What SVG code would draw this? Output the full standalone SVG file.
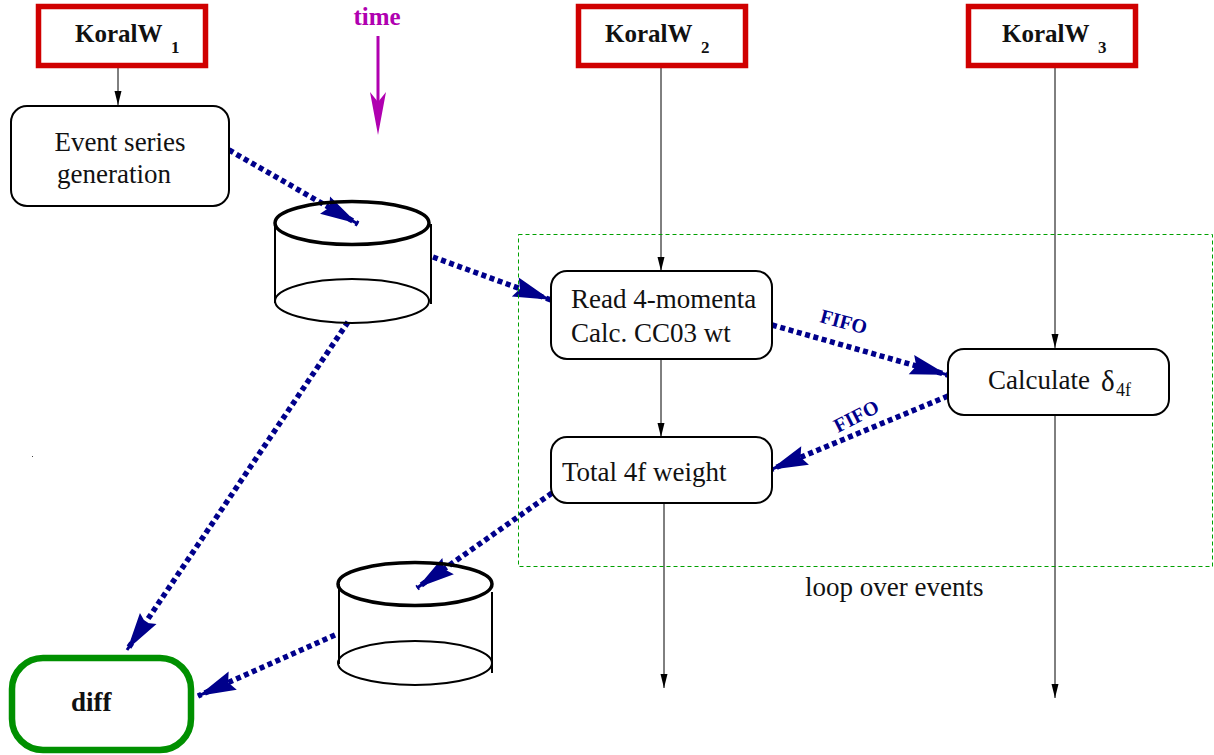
<svg xmlns="http://www.w3.org/2000/svg" width="1214" height="755" viewBox="0 0 1214 755">
<style>
text{font-family:"Liberation Serif","Times New Roman",serif;fill:#111}
.t{font-size:27px}
.b{font-size:27px;font-weight:bold}
.s{font-size:17px;font-weight:bold}
.k{fill:#fff;stroke:#d00000;stroke-width:5.5}
.r{fill:#fff;stroke:#000;stroke-width:2}
.e{fill:none;stroke:#000;stroke-width:2}
.et{fill:none;stroke:#000;stroke-width:3.5}
.thin{fill:none;stroke:#000;stroke-width:1;marker-end:url(#thinHead)}
.dash{fill:none;stroke:#00008b;stroke-width:5.5;stroke-dasharray:5 3.6;marker-end:url(#blueHead)}
.fifo{font-size:20px;font-weight:bold;fill:#00008b}
</style>
<defs>
<marker id="thinHead" markerUnits="userSpaceOnUse" markerWidth="20" markerHeight="12" refX="18" refY="6" orient="auto"><path d="M4,2.500L18,6L4,9.500Z" fill="#000"/></marker>
<marker id="blueHead" markerUnits="userSpaceOnUse" markerWidth="46" markerHeight="26" refX="44" refY="13" orient="auto"><path d="M6,3L11,13L6,23L38,14.500L44,14.500L44,11.500L38,11.500Z" fill="#00008b"/></marker>
</defs>
<g id="connectors">
<path class="thin" d="M118,66V105"/>
<path class="thin" d="M661,68V271"/>
<path class="thin" d="M661,359V437"/>
<path class="thin" d="M664,503V688"/>
<path class="thin" d="M1055,68V348"/>
<path class="thin" d="M1055,415V698"/>
<path class="dash" d="M229,150L358,224"/>
<path class="dash" d="M433,257L551,300"/>
<path class="dash" d="M348,322L127,650"/>
<path class="dash" d="M552,493L417,588"/>
<path class="dash" d="M335,635L198,696"/>
<path class="dash" d="M772,325L948,375"/>
<path class="dash" d="M948,396L770,470"/>
</g>
<g id="koralw1"><rect class="k" x="38.500" y="6.500" width="167" height="59"/><text class="b" x="75" y="42" style="font-size:25px">KoralW</text><text class="s" x="171" y="53">1</text></g>
<g id="koralw2"><rect class="k" x="578.500" y="6.500" width="167" height="59"/><text class="b" x="605" y="42" style="font-size:25px">KoralW</text><text class="s" x="701" y="53">2</text></g>
<g id="koralw3"><rect class="k" x="968.500" y="6.500" width="167" height="59"/><text class="b" x="1002" y="42" style="font-size:25px">KoralW</text><text class="s" x="1098" y="53">3</text></g>
<g id="time"><text x="377" y="25" text-anchor="middle" style="font-size:25px;font-weight:bold;fill:#b000b0">time</text><path d="M378,36V125" stroke="#b000b0" stroke-width="3" fill="none"/><path d="M370,92L378,102L386,92L378,135Z" fill="#b000b0"/></g>
<g id="event"><rect class="r" x="11" y="106" width="218" height="100" rx="16"/><text class="t" x="120" y="151" text-anchor="middle">Event series</text><text class="t" x="114" y="183" text-anchor="middle">generation</text></g>
<g id="cyl1"><ellipse class="e" cx="352" cy="301" rx="77" ry="22"/><path class="e" d="M275,223V303M431,224V304"/><ellipse class="et" cx="352" cy="223" rx="77" ry="21.500" /></g>
<g id="cyl2"><ellipse class="e" cx="415" cy="663" rx="77" ry="22"/><path class="e" d="M339,584V664M492,592V673"/><ellipse class="et" cx="415" cy="584" rx="77" ry="21.500"/></g>
<g id="read"><rect class="r" x="551" y="271" width="221" height="88" rx="16"/><text class="t" x="571" y="308">Read 4-momenta</text><text class="t" x="571" y="342">Calc. CC03 wt</text></g>
<g id="calc"><rect class="r" x="948" y="349" width="221" height="66" rx="16"/><text class="t" x="988" y="389">Calculate</text><text x="1101" y="391" style="font-size:29px">δ</text><text x="1116" y="396" style="font-size:18px">4f</text></g>
<g id="total"><rect class="r" x="551" y="437" width="221" height="66" rx="16"/><text class="t" x="562" y="481">Total 4f weight</text></g>
<g id="diff"><rect x="12" y="658" width="179" height="92" rx="31" fill="#fff" stroke="#009000" stroke-width="6.500"/><text class="b" x="71" y="711">diff</text></g>
<g id="loop"><rect x="518.500" y="234.500" width="694" height="332" fill="none" stroke="#00a000" stroke-width="1" stroke-dasharray="4 3"/><text class="t" x="805" y="596">loop over events</text></g>
<text class="fifo" transform="translate(819,322) rotate(15)">FIFO</text>
<text class="fifo" transform="translate(838,433) rotate(-27)">FIFO</text>
<rect x="32" y="456" width="1" height="1" fill="#444"/>
</svg>
